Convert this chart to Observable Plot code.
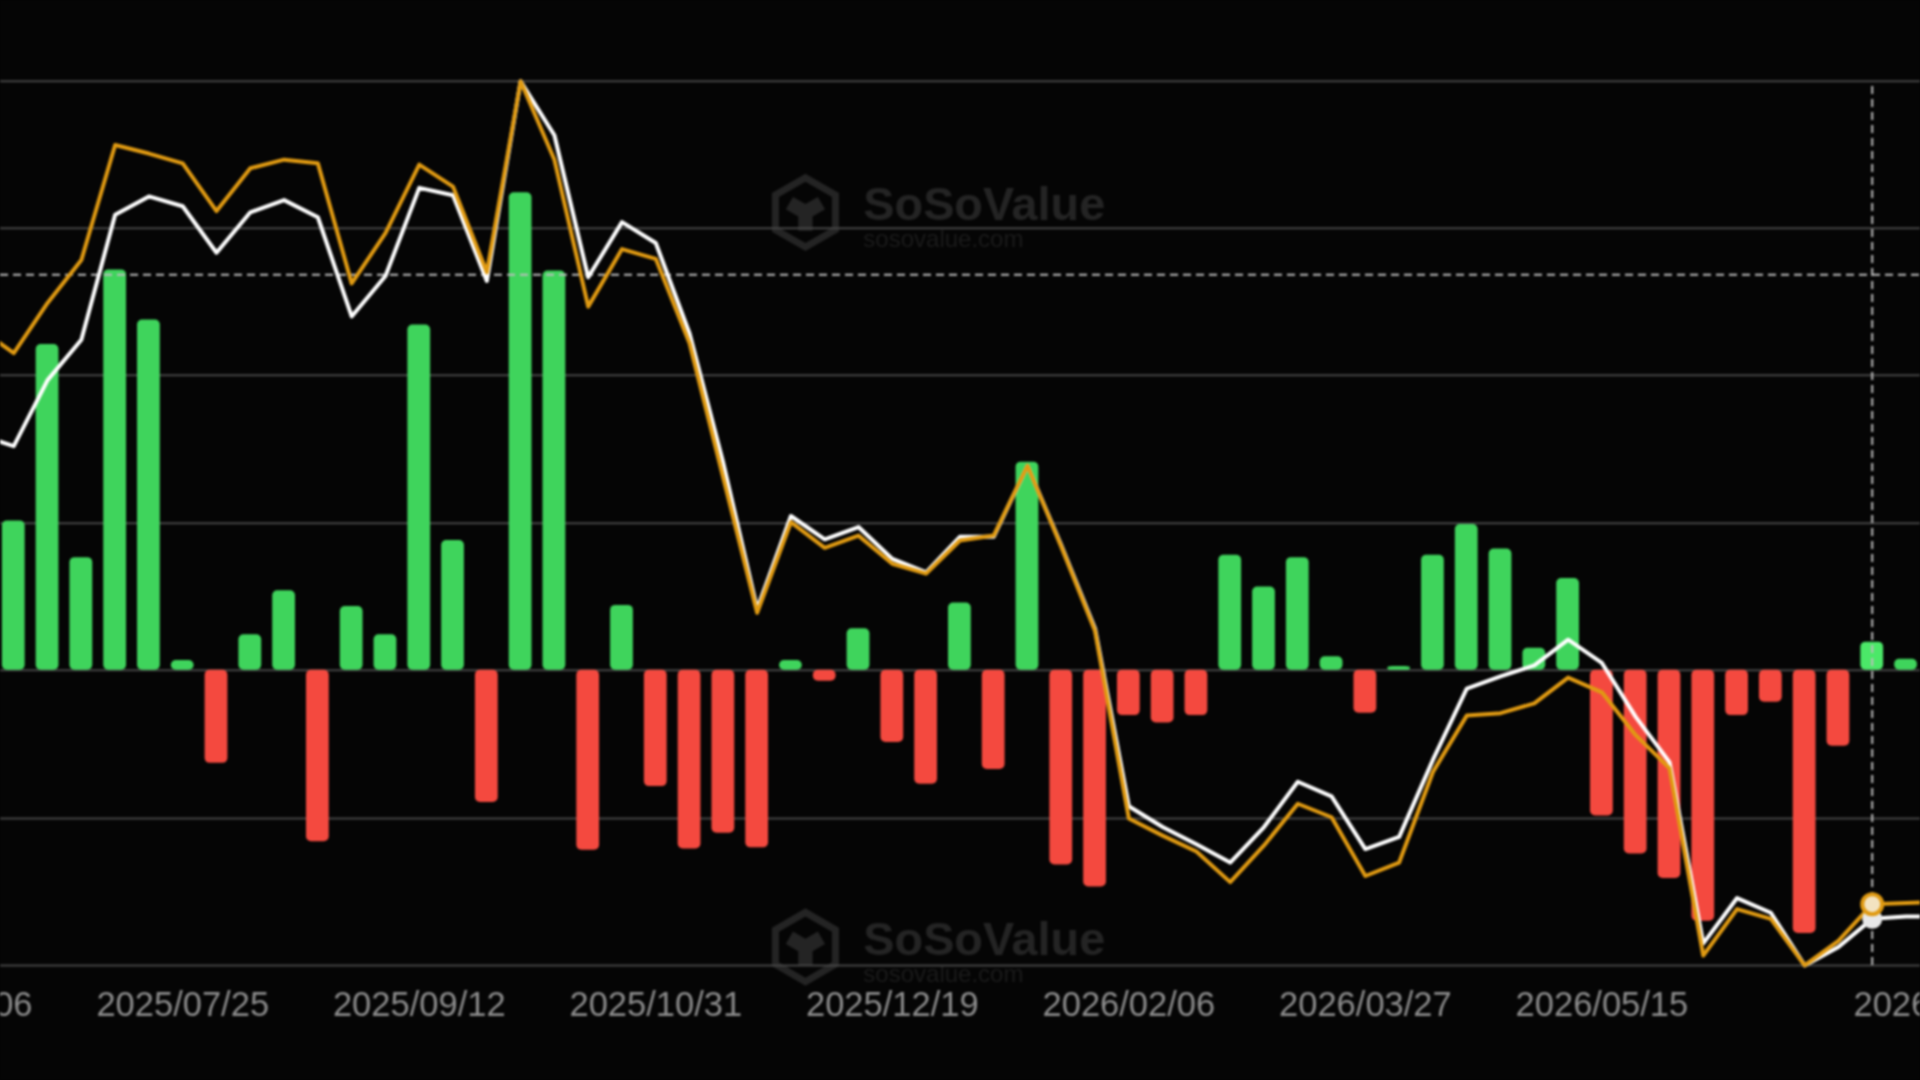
<!DOCTYPE html>
<html>
<head>
<meta charset="utf-8">
<script src="https://cdn.jsdelivr.net/npm/d3@7"></script>
<script src="https://cdn.jsdelivr.net/npm/@observablehq/plot@0.6"></script>
<style>
html,body{margin:0;padding:0;background:#050505;overflow:hidden}
#chart svg{display:block;filter:blur(0.9px)}
</style>
</head>
<body>
<div id="chart"></div>
<script>
const lineStart = "2025-06-13";
const flowStart = "2025-06-20";
const tickDates = ["2025-06-06","2025-07-25","2025-09-12","2025-10-31","2025-12-19","2026-02-06","2026-03-27","2026-05-15","2026-07-24"];
const xDomain = ["2025-06-17T06:00Z","2026-07-20T00:00Z"];
const yDomain = [-94,788];
const gridValues = [0,120,241,361,482,602,722];
const flowBase = 241;
const flows = [122,266,92,327,286,8,-76,29,65,-140,52,29,282,106,-108,390,326,-147,53,-95,-146,-133,-145,8,-9,34,-59,-93,55,-81,170,-159,-177,-37,-43,-37,94,68,92,11,-35,3,94,119,99,18,75,-119,-150,-170,-205,-37,-26,-215,-62,23,9];
const whiteLine = [433,424,478,511,613,628,620,582,615,625,611,530,563,635,629,559,722,678,562,607,590,516,410,291,367,348,358,332,321,350,350,408,343,275,130,113,99,84,113,150,138,95,105,168,226,236,245,266,247,203,166,18,55,43,0,15,38,40,40];
const orangeLine = [520,500,541,576,670,663,655,616,651,658,655,557,598,654,636,566,722,658,538,585,577,508,398,288,362,341,351,328,320,347,351,408,342,273,120,106,93,68,98,132,121,73,84,158,204,206,214,235,223,188,161,8,46,38,0,20,50,51,52];
const crossDate = "2026-07-10";
const crossY = 564;
const crossTop = 718;

const utc = s => new Date(s.length > 10 ? s : s + "T00:00Z");
const week = (start, i) => d3.utcDay.offset(utc(start), 7 * i);
const flowRows = flows.map((v, i) => {
  const d = week(flowStart, i);
  return {x1: d3.utcHour.offset(d, -84), x2: d3.utcHour.offset(d, 84), y1: flowBase, y2: flowBase + v, up: v >= 0, active: +d === +utc(crossDate)};
});
const seriesRows = arr => arr.map((v, i) => ({x: week(lineStart, i), y: v}));
const crossX = utc(crossDate);
const crossIndex = (+crossX - +utc(lineStart)) / 6048e5;
const whiteAtCross = whiteLine[crossIndex];
const orangeAtCross = orangeLine[crossIndex];

const wmColor = "#242424";
const logoX = utc("2025-12-01"), wmTextX = utc("2025-12-13");
const wmMain = [{y: 621}, {y: 21}], wmSub = [{y: 593}, {y: -7}], wmLogo = [{y: 615}, {y: 15}];

const plot = Plot.plot({
  width: 1920, height: 1080,
  marginTop: 0, marginBottom: 0, marginLeft: 0, marginRight: 0,
  style: {background: "#050505", fontFamily: "'Liberation Sans', Arial, sans-serif"},
  x: {type: "utc", domain: xDomain.map(utc), range: [0, 1920]},
  y: {domain: yDomain, range: [1080, 0], axis: null},
  marks: [
    Plot.dot(wmLogo, {x: () => logoX, y: "y", symbol: "hexagon", r: 30, stroke: wmColor, strokeWidth: 7, fill: "none"}),
    Plot.dot(wmLogo, {x: () => logoX, y: "y", symbol: "wye", r: 15, fill: wmColor}),
    Plot.text(wmMain, {x: () => wmTextX, y: "y", text: () => "SoSoValue", textAnchor: "start", fontSize: 46.8, fontWeight: 700, fill: wmColor}),
    Plot.text(wmSub, {x: () => wmTextX, y: "y", text: () => "sosovalue.com", textAnchor: "start", fontSize: 24, fill: "#1b1b1b"}),
    Plot.ruleY(gridValues, {stroke: "#454545", strokeWidth: 2}),
    Plot.rect(flowRows, {x1: "x1", x2: "x2", y1: "y1", y2: "y2", insetLeft: 5.5, insetRight: 5.5, rx: 5,
      fill: d => d.active ? "#4be868" : d.up ? "#3fd45c" : "#f4493f"}),
    Plot.ruleY([crossY], {stroke: "#bdbdbd", strokeWidth: 2, strokeDasharray: "8,5"}),
    Plot.ruleX([crossX], {y1: 0, y2: crossTop, stroke: "#bdbdbd", strokeWidth: 2, strokeDasharray: "8,5"}),
    Plot.line(seriesRows(whiteLine), {x: "x", y: "y", stroke: "#ffffff", strokeWidth: 4, curve: "linear", clip: true}),
    Plot.line(seriesRows(orangeLine), {x: "x", y: "y", stroke: "#e09a12", strokeWidth: 4, curve: "linear", clip: true}),
    Plot.dot([{x: crossX, y: whiteAtCross}], {x: "x", y: "y", r: 9, fill: "#e8e8e8", stroke: "#e8e8e8", strokeWidth: 2}),
    Plot.dot([{x: crossX, y: orangeAtCross}], {x: "x", y: "y", r: 10, fill: "#f3e3c0", stroke: "#e09a12", strokeWidth: 4}),
    Plot.axisX({ticks: tickDates.map(utc), tickFormat: d3.utcFormat("%Y/%m/%d"), tickSize: 0, tickPadding: 12, fontSize: 34.5, fill: "#8a8a8a", anchor: "bottom", dy: -101, label: null, marginBottom: 0})
  ]
});
document.getElementById("chart").append(plot);
</script>
</body>
</html>
